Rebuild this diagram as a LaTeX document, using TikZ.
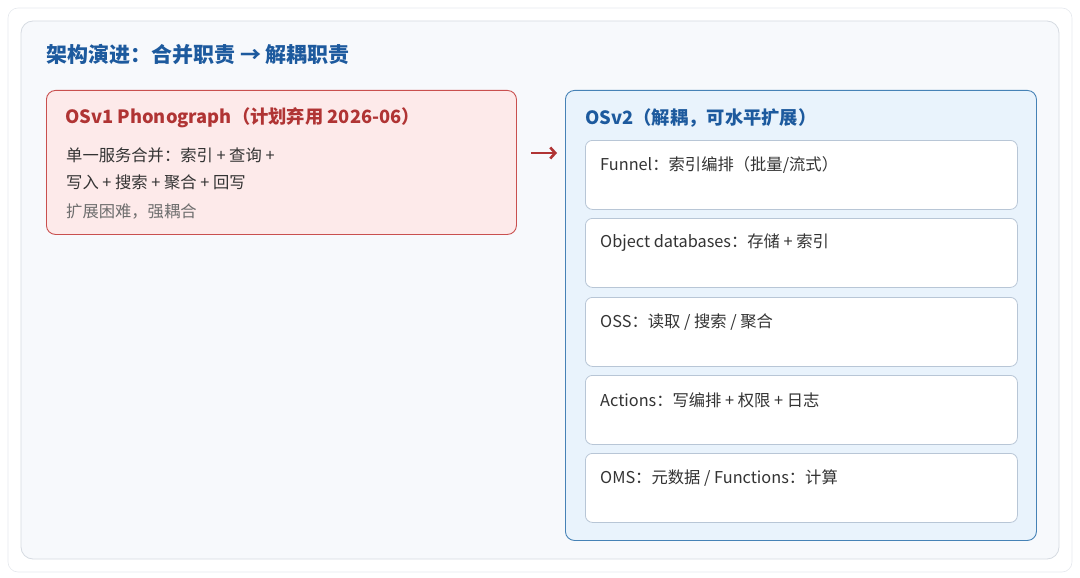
\documentclass[tikz,border=0pt]{standalone}
\usepackage{fontspec}
\setmainfont{Noto Sans CJK SC}
\usepackage{tikz}
\usetikzlibrary{arrows,arrows.meta,shapes,positioning}
\usepackage{xcolor}
\definecolor{evblue}{RGB}{29,90,158}
\definecolor{evred}{RGB}{176,52,52}
\definecolor{evtext}{RGB}{51,51,51}
\definecolor{evgrey}{RGB}{110,110,110}
\definecolor{evpanel}{RGB}{247,249,252}
\definecolor{evpanelline}{RGB}{214,219,226}
\definecolor{evredfill}{RGB}{253,234,234}
\definecolor{evredline}{RGB}{201,80,79}
\definecolor{evbluefill}{RGB}{233,243,252}
\definecolor{evblueline}{RGB}{70,130,182}
\definecolor{evcardline}{RGB}{184,198,214}
\tikzstyle{arrow} = [line width=2.6pt,-{Straight Barb[length=5pt,width=11pt,line width=2.6pt]},color=evred]
\tikzstyle{oldbox} = [draw=evredline, fill=evredfill, line width=0.9pt, rounded corners=9pt, anchor=north west, inner sep=0pt]
\tikzstyle{newbox} = [draw=evblueline, fill=evbluefill, line width=0.9pt, rounded corners=9pt, anchor=north west, inner sep=0pt]
\tikzstyle{card} = [draw=evcardline, fill=white, line width=0.8pt, rounded corners=7pt, anchor=north west, inner sep=0pt, minimum width=432pt, minimum height=69pt]
\tikzstyle{cardtext} = [anchor=west, inner sep=0pt, color=evtext, font=\fontsize{16.3}{19}\selectfont]
\tikzstyle{body} = [anchor=west, inner sep=0pt, color=evtext, font=\fontsize{16.3}{19}\selectfont]

\begin{document}
\begin{tikzpicture}[x=1pt, y=-1pt]
\useasboundingbox (0,0) rectangle (1080,578);
% Outer frame and panel
\draw[fill=white, draw=evpanelline!60, line width=0.6pt, rounded corners=10pt] (8,8) rectangle (1072,572);
\draw[fill=evpanel, draw=evpanelline, line width=0.8pt, rounded corners=12pt] (21,21) rectangle (1059,559);

% Heading
\node[anchor=west, inner sep=0pt, color=evblue, font=\fontsize{21}{25}\selectfont\bfseries] (heading) at (46,55) {架构演进：合并职责 → 解耦职责};

% Old architecture
\node[oldbox, minimum width=470pt, minimum height=144pt] (osv1) at (46,90) {};
\node[anchor=west, inner sep=0pt, color=evred, font=\fontsize{18.3}{22}\selectfont\bfseries] (osv1title) at (65,118) {OSv1 Phonograph（计划弃用 2026-06）};
\node[body] (osv1a) at (66,155) {单一服务合并：索引 + 查询 +};
\node[body] (osv1b) at (66,182) {写入 + 搜索 + 聚合 + 回写};
\node[body, color=evgrey] (osv1c) at (66,212) {扩展困难，强耦合};

% Arrow between
\coordinate (arrS) at (531,153);
\coordinate (arrE) at (557,153);
\draw[arrow] (arrS) -- (arrE);

% New architecture
\node[newbox, minimum width=471pt, minimum height=450pt] (osv2) at (565,90) {};
\node[anchor=west, inner sep=0pt, color=evblue, font=\fontsize{18.3}{22}\selectfont\bfseries] (osv2title) at (585,118) {OSv2（解耦，可水平扩展）};

% Service cards
\node[card] (funnel) at (585,140) {};
\node[cardtext] (funneltxt) at (600,165) {Funnel：索引编排（批量/流式）};
\node[card] (objdb) at (585,218) {};
\node[cardtext] (objdbtxt) at (600,243) {Object databases：存储 + 索引};
\node[card] (oss) at (585,297) {};
\node[cardtext] (osstxt) at (600,322) {OSS：读取 / 搜索 / 聚合};
\node[card] (actions) at (585,375) {};
\node[cardtext] (actionstxt) at (600,400) {Actions：写编排 + 权限 + 日志};
\node[card] (oms) at (585,453) {};
\node[cardtext] (omstxt) at (600,478) {OMS：元数据 / Functions：计算};
\end{tikzpicture}
\end{document}
